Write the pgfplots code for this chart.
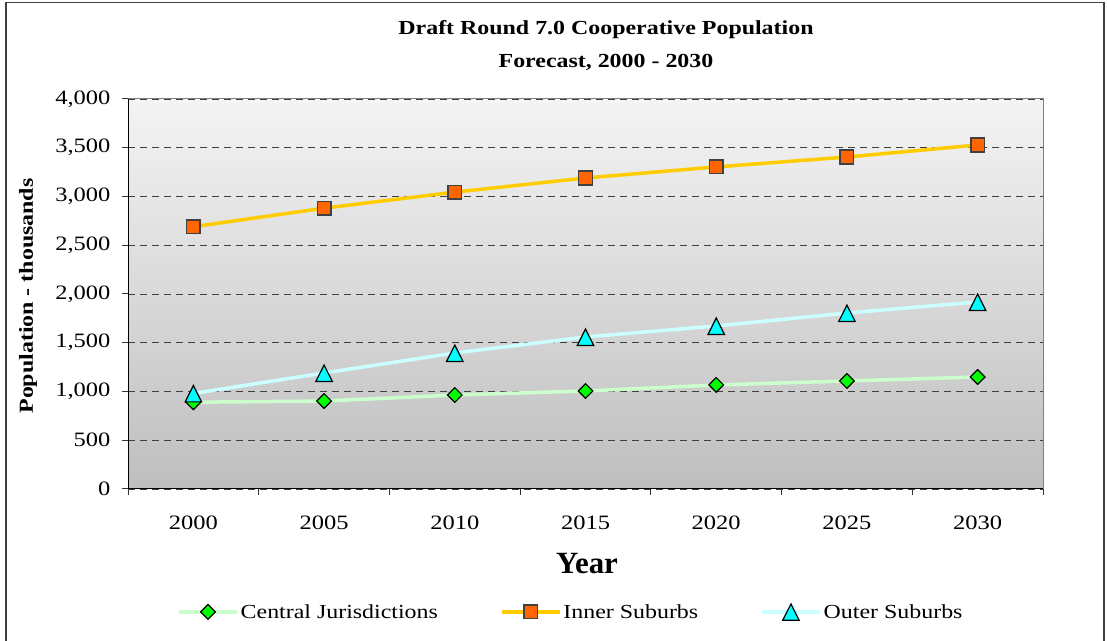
\documentclass[border=0pt]{standalone}
\usepackage{pgfplots}
\pgfplotsset{compat=1.18}
\usepackage{fontspec}
\setmainfont[FakeStretch=1.2]{Liberation Serif}
\newfontfamily\plainserif{Liberation Serif}
\definecolor{cjline}{HTML}{CCFFCC}
\definecolor{cjmark}{HTML}{00FF00}
\definecolor{isline}{HTML}{FFCC00}
\definecolor{ismark}{HTML}{FF6600}
\definecolor{osline}{HTML}{CCFFFF}
\definecolor{osmark}{HTML}{00FFFF}
\definecolor{bgtop}{HTML}{F4F4F4}
\definecolor{bgbot}{HTML}{BEBEBE}

\pgfplotstableread{
x cj is os
0 890 2690 980
1 902 2880 1190
2 964 3045 1395
3 1005 3190 1559
4 1067 3303 1672
5 1108 3405 1805
6 1149 3528 1918
}\popdata

\begin{document}
\begin{tikzpicture}[x=1bp,y=1bp]
\useasboundingbox (0,0) rectangle (1107,641);
\draw[line width=1.5bp, black!75] (6,-2) -- (6,638.5) -- (1104,638.5) -- (1104,-2);
\node[font=\fontsize{20}{23}\selectfont\bfseries] at (606,611) {Draft Round 7.0 Cooperative Population};
\node[font=\fontsize{20}{23}\selectfont\bfseries] at (606,579) {Forecast, 2000 - 2030};
\node[font=\fontsize{20}{24}\selectfont\bfseries, rotate=90] at (28,345) {Population - thousands};
\node[font=\plainserif\fontsize{31}{36}\selectfont\bfseries] at (587,77) {Year};
\begin{axis}[
  at={(128bp,152bp)}, anchor=south west,
  scale only axis, width=915bp, height=390bp,
  xmin=-0.5, xmax=6.5, ymin=0, ymax=4000,
  axis background/.style={top color=bgtop, bottom color=bgbot},
  axis line style={black!50, line width=1bp},
  xtick={-0.5,0.5,...,6.5}, xticklabels={},
  extra x ticks={0,1,2,3,4,5,6},
  extra x tick labels={2000,2005,2010,2015,2020,2025,2030},
  extra x tick style={major tick length=0pt, grid=none, xticklabel style={yshift=-23bp}},
  ytick={0,500,...,4000},
  ytick pos=left, xtick pos=bottom,
  tick align=outside,
  major tick length=6bp,
  tick style={black!80, line width=1bp},
  ymajorgrids,
  major grid style={black!75, line width=0.9bp, dash pattern=on 7bp off 5bp},
  /pgf/number format/1000 sep={,},
  /pgf/number format/assume math mode=true,
  ticklabel style={font=\fontsize{20.5}{24}\selectfont},
  yticklabel style={xshift=-8bp},
  legend columns=3,
  legend style={at={(0.484,-0.315)}, anchor=center, draw=none, fill=none,
    font=\fontsize{20}{24}\selectfont,
    /tikz/every even column/.append style={column sep=60bp}},
  legend image code/.code={\draw[mark repeat=2,mark phase=2,#1] plot coordinates {(0bp,0bp) (29bp,0bp) (58bp,0bp)};},
]
\addplot[cjline, line width=3.5bp, mark=square*, mark size=5.2bp,
  mark options={rotate=45, fill=cjmark, draw=black, line width=1.2bp}] table[x=x,y=cj] {\popdata};
\addlegendentry{Central Jurisdictions}
\addplot[isline, line width=3.5bp, mark=square*, mark size=6.8bp,
  mark options={fill=ismark, draw=black!75, line width=1.5bp}] table[x=x,y=is] {\popdata};
\addlegendentry{Inner Suburbs}
\addplot[osline, line width=3.5bp, mark=triangle*, mark size=9.5bp,
  mark options={fill=osmark, draw=black, line width=1.2bp, yscale=1.15, yshift=-2.6bp}] table[x=x,y=os] {\popdata};
\addlegendentry{Outer Suburbs}
\draw[black, line width=1.2bp] (rel axis cs:0,1) -- (rel axis cs:0,0) -- (rel axis cs:1,0);
\end{axis}
\end{tikzpicture}
\end{document}
